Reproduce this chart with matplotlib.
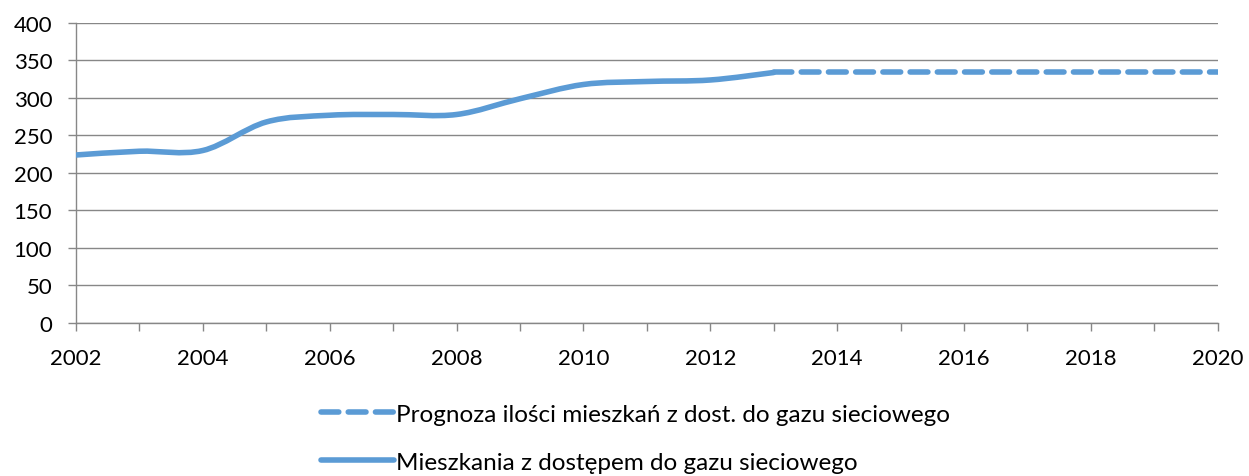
import matplotlib
matplotlib.use("Agg")
import matplotlib.pyplot as plt
import numpy as np
from matplotlib.path import Path
from matplotlib.patches import PathPatch
from matplotlib.lines import Line2D

years_actual = [2002, 2003, 2004, 2005, 2006, 2007, 2008, 2009, 2010, 2011, 2012, 2013]
values_actual = [224, 229, 230, 268, 277, 278, 278, 299, 318, 322, 324, 334]
years_forecast = [2013, 2014, 2015, 2016, 2017, 2018, 2019, 2020]
values_forecast = [334, 334, 334, 334, 334, 334, 334, 334]
label_forecast = "Prognoza ilości mieszkań z dost. do gazu sieciowego"
label_actual = "Mieszkania z dostępem do gazu sieciowego"
xticks = list(range(2002, 2021, 2))
yticks = list(range(0, 401, 50))

color = "#5B9BD5"
grid_c = "#878787"
plt.rcParams['font.family'] = ['Lato', 'DejaVu Sans']
LW = 4.0
DASH = (3.2, 1.7)

fig = plt.figure(figsize=(12.49, 4.77), dpi=100)
ax = fig.add_axes([0.0608, 0.3208, 0.9142, 0.6289])

# smoothed line (Excel-style Bezier through data points)
x = np.array(years_actual, float)
y = np.array(values_actual, float)
verts = [(x[0], y[0])]
codes = [Path.MOVETO]
n = len(x)
for i in range(n - 1):
    p0 = (x[i - 1], y[i - 1]) if i > 0 else (x[i], y[i])
    p1 = (x[i], y[i])
    p2 = (x[i + 1], y[i + 1])
    p3 = (x[i + 2], y[i + 2]) if i + 2 < n else (x[i + 1], y[i + 1])
    t = 1 / 6
    c1 = (p1[0] + (p2[0] - p0[0]) * t, p1[1] + (p2[1] - p0[1]) * t)
    c2 = (p2[0] - (p3[0] - p1[0]) * t, p2[1] - (p3[1] - p1[1]) * t)
    verts += [c1, c2, p2]
    codes += [Path.CURVE4] * 3
patch = PathPatch(Path(verts, codes), facecolor='none', edgecolor=color,
                  lw=LW, capstyle='round', joinstyle='round', zorder=3)
ax.add_patch(patch)

ax.plot(years_forecast, values_forecast, color=color, lw=LW,
        dashes=DASH, dash_capstyle='round', zorder=3)

ax.set_xlim(2002, 2020)
ax.set_ylim(0, 400)
ax.set_yticks(yticks)
ax.set_xticks(xticks)
ax.set_xticks(range(2002, 2021), minor=True)
ax.grid(axis='y', color=grid_c, lw=1)
ax.set_axisbelow(True)
for s in ['top', 'right']:
    ax.spines[s].set_visible(False)
for s in ['left', 'bottom']:
    ax.spines[s].set_color(grid_c)
    ax.spines[s].set_linewidth(1)
ax.tick_params(axis='both', which='both', color=grid_c, length=6, width=1,
               labelsize=16)
ax.tick_params(axis='x', which='major', pad=12)
ax.tick_params(axis='y', pad=11)

handles = [Line2D([], [], color=color, lw=LW, dashes=DASH, dash_capstyle='round'),
           Line2D([], [], color=color, lw=LW, solid_capstyle='round')]
fig.legend(handles, [label_forecast, label_actual], loc='upper left',
           bbox_to_anchor=(0.257, 0.152), frameon=False, fontsize=17.5,
           handlelength=3.0, handletextpad=0.1, labelspacing=1.11,
           borderaxespad=0, borderpad=0)

fig.savefig("out.png", dpi=100)
